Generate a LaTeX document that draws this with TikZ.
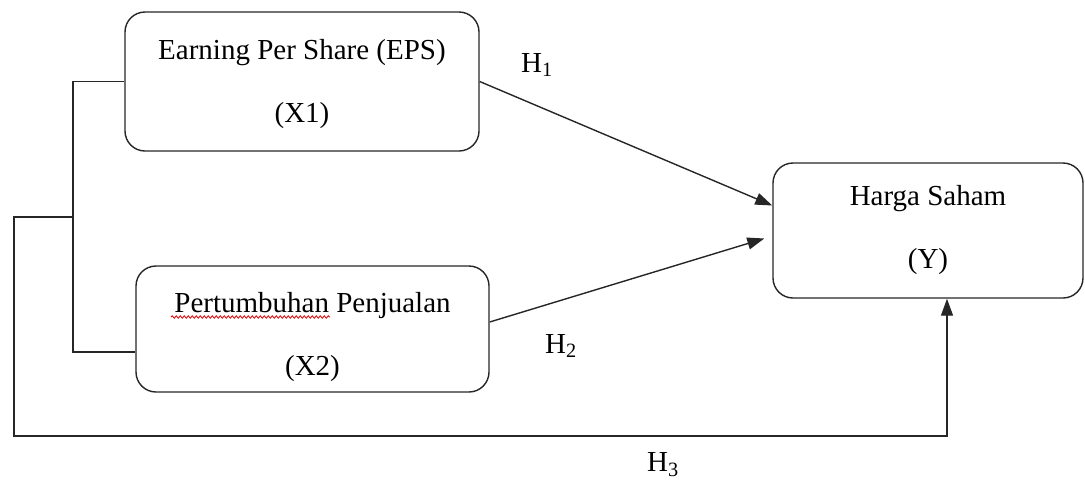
\documentclass[tikz,border=0pt]{standalone}
\usepackage{fontspec}
\setmainfont{Liberation Serif}
\usetikzlibrary{arrows.meta,calc,decorations.pathmorphing}
\begin{document}
\begin{tikzpicture}[
			x=1pt, y=-1pt,
			every node/.style={font=\fontsize{29}{63}\selectfont},
			box/.style={draw=black!85, line width=1.4pt, rounded corners=20pt,
				align=center, inner sep=0pt},
			line/.style={draw=black!85, line width=1.4pt},
			arr/.style={line, -{Triangle[length=17pt,width=12pt]}},
			squiggle/.style={draw=red!85!black, line width=0.8pt,
				decorate, decoration={snake, amplitude=1.2pt, segment length=4pt}}
		]
		\useasboundingbox (0,0) rectangle (1085,483);
		% variables
		\node[box, minimum width=354pt, minimum height=139pt] (eps) at (302,81.5)
			{\rule{0pt}{26pt}Earning Per Share (EPS)\\(X1)};
		\node[box, minimum width=353pt, minimum height=126pt] (pert) at (312.5,329)
			{\rule{0pt}{36pt}Pertumbuhan Penjualan\\(X2)};
		\node[box, minimum width=310pt, minimum height=135pt] (harga) at (928,230.5)
			{Harga Saham\\(Y)};
		\draw[squiggle] (171,317) -- (330,317);
		% hypothesis labels
		\node (h1) at (537,65) {H\textsubscript{1}};
		\node (h2) at (561,346) {H\textsubscript{2}};
		\node (h3) at (663,465) {H\textsubscript{3}};
		% connectors
		\coordinate (split) at (73,217);
		\coordinate (farleft) at (14,217);
		\coordinate (bottom) at (14,436);
		\draw[line] (eps.west) -| (split) |- ($(pert.west)+(0,23)$);
		\draw[arr] (eps.east) -- ($(harga.west)+(0,-25)$);
		\draw[arr] ($(pert.east)+(0,-7)$) -- ($(harga.west)+(-8,8)$);
		\draw[arr] (split) -- (farleft) -- (bottom) -| ($(harga.south)+(19,0)$);
	\end{tikzpicture}
\end{document}
